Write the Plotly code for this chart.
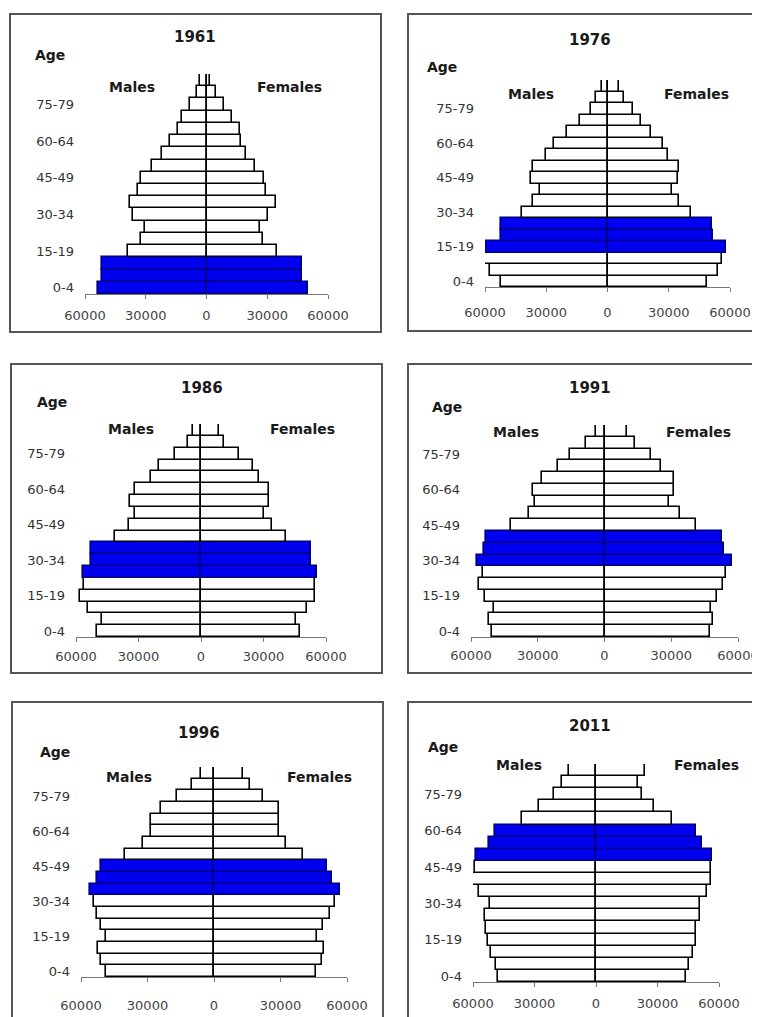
import plotly.graph_objects as go

# ---------------- data ----------------
age_groups = ["0-4", "5-9", "10-14", "15-19", "20-24", "25-29", "30-34", "35-39",
              "40-44", "45-49", "50-54", "55-59", "60-64", "65-69", "70-74",
              "75-79", "80-84", "85+"]
age_tick_labels = ["0-4", "15-19", "30-34", "45-49", "60-64", "75-79"]
years = ["1961", "1976", "1986", "1991", "1996", "2011"]

x_tick_values = [-60000, -30000, 0, 30000, 60000]
x_tick_text = ["60000", "30000", "0", "30000", "60000"]

males_1961 = [53800, 51600, 51600, 39000, 32400, 30400, 36300, 38000, 34000, 32400,
              27000, 22200, 17900, 14300, 12000, 8200, 4800, 3000]
females_1961 = [50200, 47400, 47400, 35000, 28100, 26300, 30400, 34400, 29300, 28500,
                23800, 19400, 16900, 16400, 12800, 8400, 4600, 1700]

males_1976 = [52400, 57700, 60500, 59600, 52300, 52300, 41700, 36400, 33200, 37600,
              36400, 29900, 26300, 19800, 13600, 8300, 5400, 2900]
females_1976 = [48500, 54200, 55900, 57800, 51500, 51000, 40700, 35100, 31400, 34300,
                35100, 29400, 27300, 21100, 16200, 12300, 8200, 5600]

males_1986 = [50000, 47400, 54300, 58000, 56400, 56700, 53000, 52700, 41500, 34800,
              31500, 34000, 31500, 24000, 20000, 12500, 6400, 3700]
females_1986 = [47600, 45500, 51100, 54800, 54800, 55900, 53000, 52700, 40700, 34000,
                30400, 32700, 32700, 27600, 25100, 18000, 11200, 8800]

males_1991 = [50500, 52000, 49800, 53500, 56500, 54600, 57300, 54000, 53200, 41800,
              34000, 31300, 32100, 28300, 20800, 15700, 8200, 4000]
females_1991 = [47400, 48900, 47700, 50700, 53200, 54400, 57400, 53700, 52900, 40900,
                33900, 29200, 31200, 31200, 25600, 20700, 13600, 10300]

males_1996 = [48900, 50800, 52300, 48800, 50800, 52700, 54200, 56000, 52600, 51100,
              40200, 32200, 28500, 28500, 23900, 16900, 10100, 6000]
females_1996 = [46100, 48600, 49400, 46400, 49100, 52400, 54700, 56900, 53200, 50900,
                40100, 32500, 29100, 29500, 29100, 22300, 16300, 13300]

males_2011 = [47600, 48600, 51400, 52500, 53500, 54100, 51900, 57100, 60000, 59000,
              58300, 52200, 49300, 36300, 27600, 20600, 16500, 13300]
females_2011 = [43700, 45500, 47500, 48800, 48800, 50700, 50700, 54000, 55900, 55900,
                56400, 51500, 48800, 37000, 28500, 22400, 20400, 23700]

highlight_1961 = ["0-4", "5-9", "10-14"]
highlight_1976 = ["15-19", "20-24", "25-29"]
highlight_1986 = ["25-29", "30-34", "35-39"]
highlight_1991 = ["30-34", "35-39", "40-44"]
highlight_1996 = ["35-39", "40-44", "45-49"]
highlight_2011 = ["50-54", "55-59", "60-64"]

males = [males_1961, males_1976, males_1986, males_1991, males_1996, males_2011]
females = [females_1961, females_1976, females_1986, females_1991, females_1996, females_2011]
highlights = [highlight_1961, highlight_1976, highlight_1986, highlight_1991,
              highlight_1996, highlight_2011]

# ---------------- layout geometry (page pixels) ----------------
PAGE_W, PAGE_H = 760, 1017
OFF = 8                      # default body margin of the page
W, H = PAGE_W - OFF, PAGE_H - OFF
BLUE = "#0000ee"

geom = [
    dict(frame=(10, 14, 381, 332), xl=85, xr=328, yt=74, yb=294,
         year=(195, 37), age=(50, 55), m=(132, 87), f=(289, 87), so=5),
    dict(frame=(408, 14, 770, 331), xl=485, xr=730, yt=80, yb=287,
         year=(590, 40), age=(442, 67), m=(531, 94), f=(696, 94), so=9),
    dict(frame=(11, 364, 382, 673), xl=76, xr=326, yt=424, yb=637,
         year=(202, 388), age=(52, 402), m=(131, 429), f=(302, 429), so=3),
    dict(frame=(408, 364, 770, 673), xl=471, xr=738, yt=425, yb=637,
         year=(590, 388), age=(447, 407), m=(516, 432), f=(698, 432), so=2),
    dict(frame=(12, 702, 383, 1030), xl=81, xr=347, yt=767, yb=977,
         year=(199, 733), age=(55, 752), m=(129, 777), f=(319, 777), so=12),
    dict(frame=(408, 702, 770, 1030), xl=473, xr=719, yt=764, yb=982,
         year=(590, 726), age=(443, 747), m=(519, 765), f=(706, 765), so=5),
]


def fx(v):
    return (v - OFF) / W


def fy(v):
    return 1 - (v - OFF) / H


fig = go.Figure()
layout = dict(
    width=W, height=H,
    margin=dict(l=0, r=0, t=0, b=0, pad=0, autoexpand=False),
    paper_bgcolor="white", plot_bgcolor="rgba(0,0,0,0)",
    barmode="overlay", bargap=0,
    showlegend=False,
    font=dict(family="DejaVu Sans", color="#222"),
)
shapes = []
annotations = []

for i, year in enumerate(years):
    g = geom[i]
    sfx = "" if i == 0 else str(i + 1)
    xa, ya = "x" + sfx, "y" + sfx
    hl = highlights[i]
    fills = [BLUE if a in hl else "white" for a in age_groups]
    edges = ["#00007a" if a in hl else "black" for a in age_groups]

    fig.add_trace(go.Bar(
        y=age_groups, x=[-v for v in males[i]], orientation="h",
        marker=dict(color=fills, line=dict(color=edges, width=1.6)),
        xaxis=xa, yaxis=ya, hoverinfo="skip"))
    fig.add_trace(go.Bar(
        y=age_groups, x=females[i], orientation="h",
        marker=dict(color=fills, line=dict(color=edges, width=1.6)),
        xaxis=xa, yaxis=ya, hoverinfo="skip"))

    layout["xaxis" + sfx] = dict(
        domain=[fx(g["xl"]), fx(g["xr"])], range=[-60000, 60000], anchor=ya,
        tickmode="array", tickvals=x_tick_values, ticktext=x_tick_text,
        showline=True, linecolor="#777", linewidth=1,
        ticks="outside", ticklen=4, tickcolor="#777", tickwidth=1,
        showgrid=False, zeroline=True, zerolinecolor="black", zerolinewidth=1.5,
        tickfont=dict(family="DejaVu Sans", size=13, color="#444"),
        ticklabelstandoff=g["so"], automargin=False, fixedrange=True)
    layout["yaxis" + sfx] = dict(
        domain=[fy(g["yb"]), fy(g["yt"])], anchor=xa,
        type="category", categoryorder="array", categoryarray=age_groups,
        range=[-0.5, len(age_groups) - 0.5],
        tickmode="array", tickvals=age_tick_labels,
        showgrid=False, showline=False, zeroline=False, ticks="",
        ticklabelstandoff=10, automargin=False,
        tickfont=dict(family="DejaVu Sans", size=13, color="#333"),
        fixedrange=True)

    x0, y0, x1, y1 = g["frame"]
    shapes.append(dict(type="rect", xref="paper", yref="paper",
                       x0=fx(x0), x1=fx(x1), y0=fy(y1), y1=fy(y0),
                       line=dict(color="#555", width=2), fillcolor="rgba(0,0,0,0)"))

    def ann(text, pos, size):
        annotations.append(dict(text="<b>" + text + "</b>", xref="paper", yref="paper",
                                x=fx(pos[0]), y=fy(pos[1]), xanchor="center",
                                yanchor="middle", showarrow=False,
                                font=dict(family="DejaVu Sans", size=size, color="#1a1a1a")))

    ann(year, g["year"], 15)
    ann("Age", g["age"], 14)
    ann("Males", g["m"], 14)
    ann("Females", g["f"], 14)

layout["shapes"] = shapes
layout["annotations"] = annotations
fig.update_layout(**layout)
fig.write_html("out.html")
